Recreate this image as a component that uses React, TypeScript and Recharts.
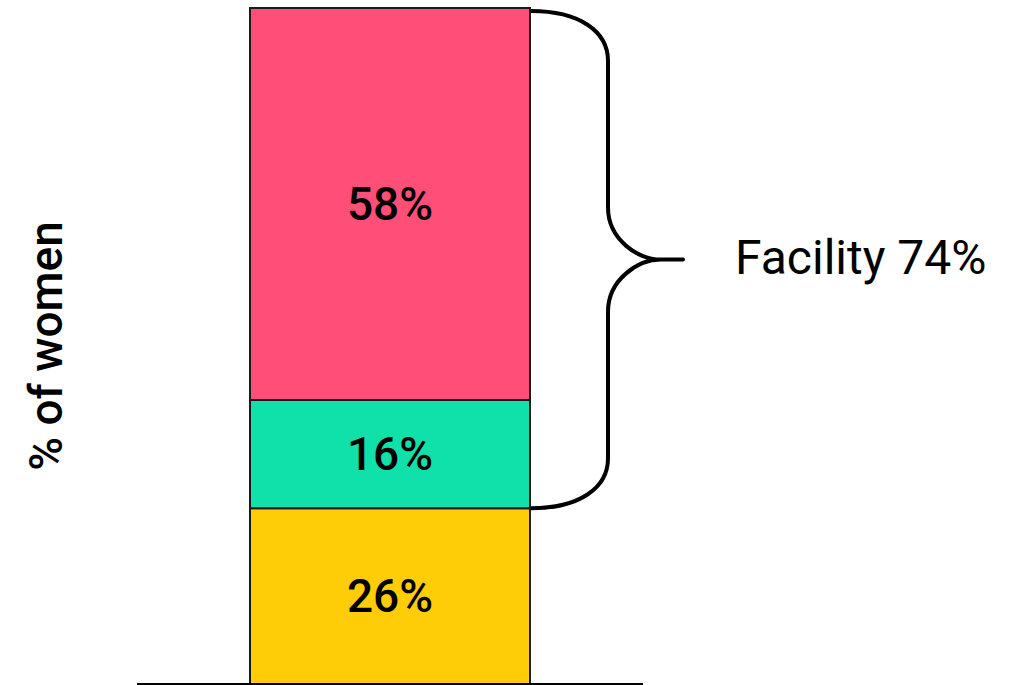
import { BarChart, Bar, XAxis, YAxis, ReferenceArea, LabelList, Label } from "recharts";

// one stacked column, read bottom to top
const categories = ["Women"];
const bottomShare = [26];
const middleShare = [16];
const topShare = [58];
const axisTitle = "% of women";
const braceTitle = "Facility";

const COLORS = {
    bottom: "#FFCC08",
    middle: "#10E0A9",
    top: "#FF4E78",
};

const BAR_SIZE = 280;
const VALUE_FONT = "Roboto, 'DejaVu Sans', sans-serif";

const data = categories.map((name, i) => ({
    name,
    bottom: bottomShare[i],
    middle: middleShare[i],
    top: topShare[i],
}));

const facilityTotal = middleShare[0] + topShare[0];

const pct = (v: number) => `${v}%`;

// curly brace drawn over the area given by the reference band
function Brace(props: any) {
    const { x, y, width, height } = props;
    const center = x + width / 2;
    const L = center + BAR_SIZE / 2 + 1;
    const T = y + 3;
    const B = y + height;
    const M = (T + B) / 2;
    const V = L + 77;
    const X = L + 152;
    const d = [
        `M ${L} ${T}`,
        `C ${L + 48} ${T} ${V} ${T + 20} ${V} ${T + 50}`,
        `L ${V} ${M - 52}`,
        `C ${V} ${M - 20} ${V + 30} ${M} ${X - 22} ${M}`,
        `L ${X} ${M}`,
        `L ${X - 22} ${M}`,
        `C ${V + 30} ${M} ${V} ${M + 20} ${V} ${M + 52}`,
        `L ${V} ${B - 50}`,
        `C ${V} ${B - 20} ${L + 48} ${B} ${L} ${B}`,
    ].join(" ");
    return (
        <g>
            <path d={d} fill="none" stroke="#000" strokeWidth={4} strokeLinejoin="round" />
            <text
                x={X + 52}
                y={M - 2}
                dominantBaseline="central"
                fontFamily={VALUE_FONT}
                fontSize={48}
                fill="#000"
            >
                {`${braceTitle} ${pct(facilityTotal)}`}
            </text>
        </g>
    );
}

function AxisTitle(props: any) {
    const { viewBox } = props;
    const cx = viewBox.x + 62;
    const cy = viewBox.y + viewBox.height / 2;
    return (
        <text
            transform={`translate(${cx}, ${cy}) rotate(-90)`}
            textAnchor="middle"
            fontFamily={VALUE_FONT}
            fontWeight={500}
            fontSize={46}
            fill="#000"
        >
            {axisTitle}
        </text>
    );
}

export default function App() {
    return (
        <div style={{ position: "absolute", left: 0, top: 0, width: 1013, height: 685, background: "#fff" }}>
            <BarChart
                width={1013}
                height={685}
                data={data}
                margin={{ top: 8, right: 370, bottom: 0, left: 0 }}
                barSize={BAR_SIZE}
            >
                <XAxis
                    dataKey="name"
                    tick={false}
                    tickLine={false}
                    height={1}
                    axisLine={{ stroke: "#000", strokeWidth: 2 }}
                />
                <YAxis
                    type="number"
                    domain={[0, 100]}
                    width={137}
                    tick={false}
                    tickLine={false}
                    axisLine={false}
                >
                    <Label content={<AxisTitle />} />
                </YAxis>
                <Bar dataKey="bottom" stackId="a" fill={COLORS.bottom} stroke="#1a1a1a" strokeWidth={2} isAnimationActive={false}>
                    <LabelList dataKey="bottom" position="center" formatter={pct} fill="#000" fontSize={46} fontWeight={500} fontFamily={VALUE_FONT} />
                </Bar>
                <Bar dataKey="middle" stackId="a" fill={COLORS.middle} stroke="#1a1a1a" strokeWidth={2} isAnimationActive={false}>
                    <LabelList dataKey="middle" position="center" formatter={pct} fill="#000" fontSize={46} fontWeight={500} fontFamily={VALUE_FONT} />
                </Bar>
                <Bar dataKey="top" stackId="a" fill={COLORS.top} stroke="#1a1a1a" strokeWidth={2} isAnimationActive={false}>
                    <LabelList dataKey="top" position="center" formatter={pct} fill="#000" fontSize={46} fontWeight={500} fontFamily={VALUE_FONT} />
                </Bar>
                <ReferenceArea y1={bottomShare[0]} y2={100} fill="none" stroke="none" shape={<Brace />} />
            </BarChart>
        </div>
    );
}
